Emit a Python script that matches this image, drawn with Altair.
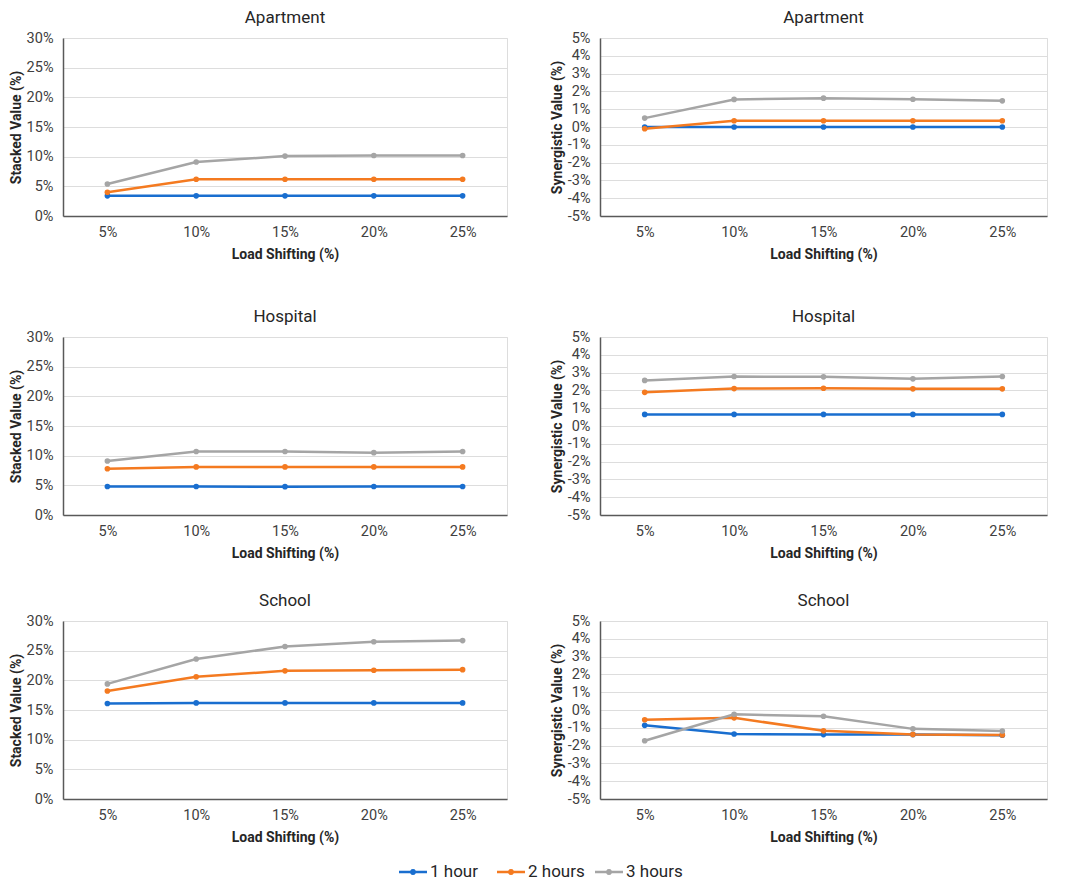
import altair as alt
import pandas as pd

loads = ["5%", "10%", "15%", "20%", "25%"]
durations = ["1 hour", "2 hours", "3 hours"]
colors = ["#196ECF", "#F47A20", "#A5A5A5"]

stacked_ticks = [0, 5, 10, 15, 20, 25, 30]
syn_ticks = [-5, -4, -3, -2, -1, 0, 1, 2, 3, 4, 5]

apartment_stacked_1h = [3.4, 3.4, 3.4, 3.4, 3.4]
apartment_stacked_2h = [4.0, 6.2, 6.2, 6.2, 6.2]
apartment_stacked_3h = [5.4, 9.1, 10.1, 10.2, 10.2]
apartment_syn_1h = [0.0, 0.0, 0.0, 0.0, 0.0]
apartment_syn_2h = [-0.1, 0.35, 0.35, 0.35, 0.35]
apartment_syn_3h = [0.5, 1.55, 1.62, 1.56, 1.47]

hospital_stacked_1h = [4.8, 4.8, 4.77, 4.8, 4.8]
hospital_stacked_2h = [7.8, 8.1, 8.1, 8.1, 8.1]
hospital_stacked_3h = [9.1, 10.7, 10.7, 10.5, 10.7]
hospital_syn_1h = [0.65, 0.65, 0.65, 0.65, 0.65]
hospital_syn_2h = [1.89, 2.1, 2.12, 2.09, 2.09]
hospital_syn_3h = [2.56, 2.78, 2.76, 2.65, 2.78]

school_stacked_1h = [16.1, 16.2, 16.2, 16.2, 16.2]
school_stacked_2h = [18.2, 20.6, 21.6, 21.7, 21.8]
school_stacked_3h = [19.4, 23.6, 25.7, 26.5, 26.7]
school_syn_1h = [-0.86, -1.35, -1.38, -1.38, -1.42]
school_syn_2h = [-0.55, -0.44, -1.17, -1.37, -1.40]
school_syn_3h = [-1.73, -0.24, -0.35, -1.06, -1.18]

# legend glyph: line segment with a dot
LEGEND_PATH = ("M-1,-0.09 L-0.2,-0.09 L-0.2,0.09 L-1,0.09 Z "
               "M0.2,-0.09 L1,-0.09 L1,0.09 L0.2,0.09 Z "
               "M0.22,0 L0.19,0.11 L0.11,0.19 L0,0.22 L-0.11,0.19 L-0.19,0.11 "
               "L-0.22,0 L-0.19,-0.11 L-0.11,-0.19 L0,-0.22 L0.11,-0.19 L0.19,-0.11 Z")

cscale = alt.Scale(domain=durations, range=colors)


def panel(title, s1, s2, s3, ytitle, ticks, width, height):
    df = pd.DataFrame({
        "load": loads * 3,
        "duration": [d for d in durations for _ in loads],
        "value": s1 + s2 + s3,
    })
    x = alt.X("load:N", sort=loads,
              scale=alt.Scale(type="point", padding=0.5),
              axis=alt.Axis(title="Load Shifting (%)", labelAngle=0, ticks=False,
                            domainColor="#595959", domainWidth=1.5,
                            labelPadding=9, titlePadding=9))
    y = alt.Y("value:Q",
              scale=alt.Scale(domain=[ticks[0], ticks[-1]], nice=False, zero=False),
              axis=alt.Axis(values=ticks, labelExpr="datum.value + '%'", title=ytitle,
                            ticks=False, grid=True, gridColor="#DDDDDD",
                            domainColor="#595959", domainWidth=1.5,
                            labelPadding=10, titlePadding=3))
    color = alt.Color("duration:N", scale=cscale, legend=None)
    line = alt.Chart(df).mark_line(strokeWidth=2.5).encode(x=x, y=y, color=color)
    pts = alt.Chart(df).mark_point(filled=True, size=32, opacity=1).encode(
        x=x, y=y, color=color)
    return alt.layer(line, pts).properties(
        width=width, height=height,
        title=alt.TitleParams(title, fontSize=17, fontWeight="normal", color="#262626",
                              offset=3))


W_L, W_R, H = 444, 447, 178
rows = []
for name, a, b in [
    ("Apartment",
     (apartment_stacked_1h, apartment_stacked_2h, apartment_stacked_3h),
     (apartment_syn_1h, apartment_syn_2h, apartment_syn_3h)),
    ("Hospital",
     (hospital_stacked_1h, hospital_stacked_2h, hospital_stacked_3h),
     (hospital_syn_1h, hospital_syn_2h, hospital_syn_3h)),
    ("School",
     (school_stacked_1h, school_stacked_2h, school_stacked_3h),
     (school_syn_1h, school_syn_2h, school_syn_3h)),
]:
    rows.append(alt.hconcat(
        panel(name, *a, "Stacked Value (%)", stacked_ticks, W_L, H),
        panel(name, *b, "Synergistic Value (%)", syn_ticks, W_R, H),
        spacing=41))

# legend row built from the series names and colours
leg_df = pd.DataFrame({"duration": durations})
leg_x = alt.X("duration:N", sort=durations, axis=None,
              scale=alt.Scale(type="point", range=[350, 546], padding=0))
leg_sym = alt.Chart(leg_df).mark_point(filled=True, opacity=1, size=784,
                                       shape=LEGEND_PATH, strokeWidth=0).encode(
    x=leg_x, color=alt.Color("duration:N", scale=cscale, legend=None))
leg_txt = alt.Chart(leg_df).mark_text(align="left", baseline="middle", dx=17, fontSize=17,
                                      color="#262626", font="Roboto").encode(
    x=leg_x, text="duration:N")
legend = alt.layer(leg_sym, leg_txt).properties(
    width=960, height=16, view=alt.ViewBackground(stroke=None))

chart = alt.vconcat(
    alt.vconcat(alt.vconcat(rows[0], rows[1], spacing=45), rows[2], spacing=30),
    legend, spacing=18
).properties(
    padding=0
).configure_view(stroke=None).configure(
    font="Roboto"
).configure_axis(
    labelFontSize=14.5, labelColor="#404040", labelFont="Roboto",
    titleFontSize=14, titleFontWeight="bold", titleColor="#262626", titleFont="Roboto"
).configure_title(font="Roboto")

chart.save("out.html", embed_options={"renderer": "svg", "actions": False})
